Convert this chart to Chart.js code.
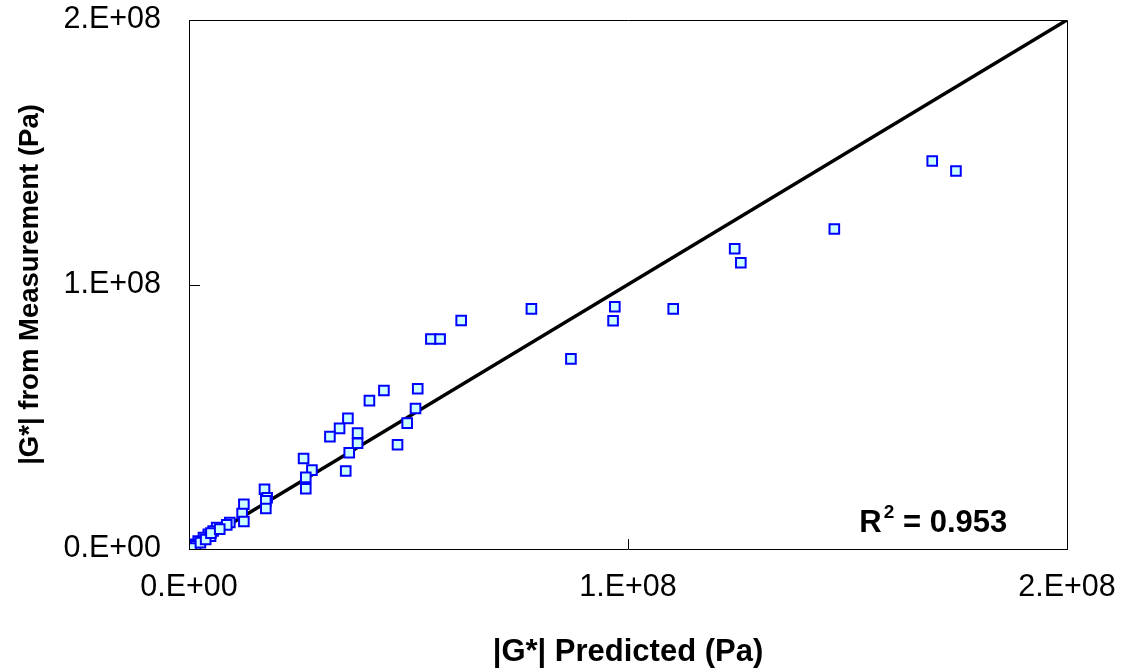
<!DOCTYPE html>
<html>
<head>
<meta charset="utf-8">
<script src="https://cdn.jsdelivr.net/npm/chart.js@4/dist/chart.umd.min.js"></script>
<style>
html,body{margin:0;padding:0;background:#fff;}
#c{display:block;}
</style>
</head>
<body>
<canvas id="c" width="1125" height="671"></canvas>
<script>
// Values in units of Pa
const predicted = [
  169.3e6, 174.7e6, 147.0e6, 124.3e6, 125.7e6, 97.0e6, 96.6e6, 110.3e6, 87.0e6, 78.0e6,
  62.0e6, 55.1e6, 57.2e6, 52.1e6, 44.4e6, 41.1e6, 51.6e6, 49.7e6, 47.5e6, 36.2e6,
  34.3e6, 32.1e6, 38.4e6, 38.4e6, 36.5e6, 35.7e6, 26.1e6, 28.0e6, 26.6e6, 26.6e6,
  17.2e6, 17.8e6, 17.5e6, 17.5e6, 12.5e6, 12.1e6, 12.5e6, 9.3e6, 8.6e6, 6.3e6,
  5.5e6, 4.4e6, 3.3e6, 2.1e6, 1.0e6, 0.3e6, 1.5e6, 0.6e6, 2.6e6, 4.9e6,
  3.8e6, 5.0e6, 7.0e6
];
const measured = [
  146.7e6, 142.9e6, 121.0e6, 113.5e6, 108.2e6, 91.6e6, 86.3e6, 90.8e6, 71.9e6, 90.8e6,
  86.4e6, 79.4e6, 79.4e6, 60.6e6, 59.9e6, 56.1e6, 53.1e6, 47.6e6, 39.4e6, 49.4e6,
  45.6e6, 42.5e6, 43.8e6, 40.0e6, 36.4e6, 29.5e6, 34.2e6, 29.8e6, 27.1e6, 22.8e6,
  22.6e6, 19.4e6, 18.2e6, 15.3e6, 16.9e6, 13.4e6, 10.4e6, 10.0e6, 9.1e6, 8.1e6,
  6.8e6, 5.6e6, 4.3e6, 3.0e6, 1.8e6, 0.8e6, 1.2e6, 0.4e6, 2.4e6, 4.8e6,
  3.6e6, 6.0e6, 7.5e6
];
const equalityLineX = [0, 2e8];
const equalityLineY = [0, 2e8];
const xTickValues = [0, 1e8, 2e8];
const yTickValues = [0, 1e8, 2e8];
const tickLabels = ["0.E+00", "1.E+08", "2.E+08"];
const rSquaredLabel = "0.953";

const pts = predicted.map((x, i) => ({x: x, y: measured[i]}));
const linePts = equalityLineX.map((x, i) => ({x: x, y: equalityLineY[i]}));

const FONT = "'Liberation Sans', Arial, sans-serif";

function labelFor(v) {
  const i = xTickValues.indexOf(v);
  return i >= 0 ? tickLabels[i] : '';
}

const frame = {
  id: 'frame',
  afterDraw(chart) {
    const ctx = chart.ctx;
    const a = chart.chartArea;
    const xs = chart.scales.x, ys = chart.scales.y;
    ctx.save();
    ctx.strokeStyle = '#000';
    ctx.lineWidth = 1;
    ctx.beginPath();
    ctx.moveTo(Math.round(a.left) + 0.5, Math.round(a.top) + 0.5);
    ctx.lineTo(Math.round(a.right) + 0.5, Math.round(a.top) + 0.5);
    ctx.lineTo(Math.round(a.right) + 0.5, Math.round(a.bottom) + 0.5);
    ctx.stroke();
    xTickValues.forEach(v => {
      const px = Math.round(xs.getPixelForValue(v)) + 0.5;
      ctx.beginPath();
      ctx.moveTo(px, a.bottom);
      ctx.lineTo(px, a.bottom - 10);
      ctx.stroke();
    });
    yTickValues.forEach(v => {
      const py = Math.round(ys.getPixelForValue(v)) + 0.5;
      ctx.beginPath();
      ctx.moveTo(a.left, py);
      ctx.lineTo(a.left + 11, py);
      ctx.stroke();
    });
    ctx.fillStyle = '#000';
    ctx.textBaseline = 'alphabetic';
    ctx.textAlign = 'left';
    const tx = xs.getPixelForValue(1.527e8);
    const ty = ys.getPixelForValue(0.065e8);
    ctx.font = "bold 31px " + FONT;
    ctx.fillText("R", tx, ty);
    const w = ctx.measureText("R").width;
    ctx.font = "bold 19px " + FONT;
    ctx.fillText("2", tx + w + 2, ty - 14);
    const w2 = ctx.measureText("2").width;
    ctx.font = "bold 31px " + FONT;
    ctx.fillText(" = " + rSquaredLabel, tx + w + w2 + 2, ty);
    ctx.restore();
  }
};

new Chart(document.getElementById('c'), {
  type: 'scatter',
  data: {
    datasets: [
      {
        type: 'line',
        data: linePts,
        borderColor: '#000',
        borderWidth: 3.5,
        pointRadius: 0,
        fill: false,
        order: 2
      },
      {
        data: pts,
        pointStyle: 'rect',
        pointRadius: 6.8,
        pointBorderWidth: 2,
        pointBorderColor: '#0000FF',
        pointBackgroundColor: '#CCFFFF',
        order: 1
      }
    ]
  },
  options: {
    responsive: false,
    animation: false,
    devicePixelRatio: 1,
    layout: { padding: { top: 20, right: 58, left: 0, bottom: 0 } },
    plugins: { legend: { display: false }, tooltip: { enabled: false } },
    scales: {
      x: {
        type: 'linear',
        min: 0, max: 2e8,
        afterBuildTicks(s) { s.ticks = xTickValues.map(v => ({value: v})); },
        afterFit(s) { s.height = 122; s.paddingLeft = 0; s.paddingRight = 0; },
        grid: { drawOnChartArea: false, drawTicks: false },
        border: { display: true, color: '#000', width: 1 },
        ticks: {
          color: '#000',
          font: { family: FONT, size: 30.5 },
          padding: 20,
          maxRotation: 0,
          callback: v => labelFor(v)
        },
        title: {
          display: true,
          text: '|G*| Predicted (Pa)',
          color: '#000',
          font: { family: FONT, size: 31, weight: 'bold' },
          padding: { top: 0, bottom: 0 }
        }
      },
      y: {
        type: 'linear',
        min: 0, max: 2e8,
        afterBuildTicks(s) { s.ticks = yTickValues.map(v => ({value: v})); },
        afterFit(s) { s.width = 189; s.paddingTop = 0; s.paddingBottom = 0; },
        grid: { drawOnChartArea: false, drawTicks: false },
        border: { display: true, color: '#000', width: 1 },
        ticks: {
          color: '#000',
          font: { family: FONT, size: 30.5 },
          padding: 28,
          callback: v => labelFor(v)
        },
        title: {
          display: true,
          text: '|G*| from Measurement (Pa)',
          color: '#000',
          font: { family: FONT, size: 27.5, weight: 'bold' },
          padding: { top: 14, bottom: 0 }
        }
      }
    }
  },
  plugins: [frame]
});
</script>
</body>
</html>
